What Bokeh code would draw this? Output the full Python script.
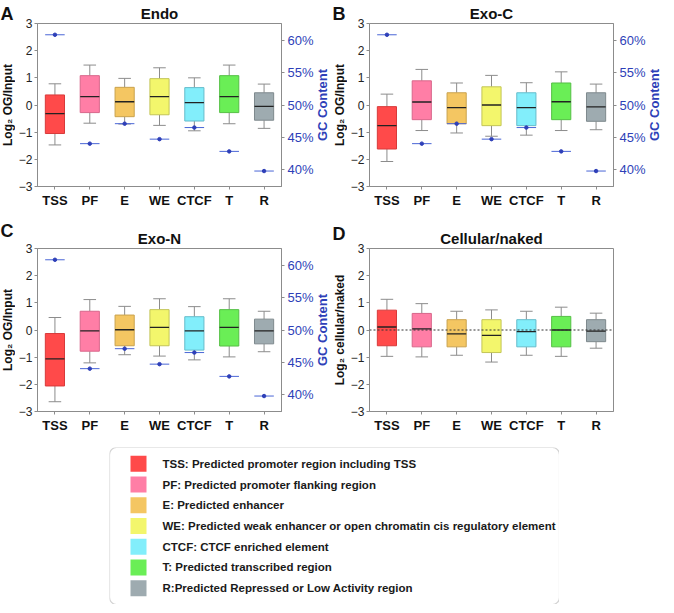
import math
from bokeh.plotting import figure
from bokeh.models import (FactorRange, Range1d, LinearAxis, FixedTicker,
                          PrintfTickFormatter, ColumnDataSource, Span,
                          BoxAnnotation, Spacer)
from bokeh.transform import dodge
from bokeh.layouts import column, row
from bokeh.embed import file_html
from bokeh.resources import INLINE
from bokeh.core.properties import value

# ---------------- data ----------------
CATS = ["TSS", "PF", "E", "WE", "CTCF", "T", "R"]
LEGEND_TEXT = [
    "TSS: Predicted promoter region including TSS",
    "PF: Predicted promoter flanking region",
    "E: Predicted enhancer",
    "WE: Predicted weak enhancer or open chromatin cis regulatory element",
    "CTCF: CTCF enriched element",
    "T: Predicted transcribed region",
    "R:Predicted Repressed or Low Activity region",
]
GC_CONTENT = [60.9, 44.0, 47.1, 44.7, 46.5, 42.8, 39.75]

ENDO_LO = [-1.47, -0.67, -0.70, -0.75, -0.95, -0.69, -0.86]
ENDO_Q1 = [-1.05, -0.28, -0.43, -0.36, -0.59, -0.28, -0.56]
ENDO_MED = [-0.32, 0.31, 0.12, 0.31, 0.09, 0.31, -0.05]
ENDO_Q3 = [0.37, 1.08, 0.65, 0.97, 0.64, 1.08, 0.45]
ENDO_HI = [0.78, 1.47, 0.98, 1.37, 1.00, 1.47, 0.77]

EXOC_LO = [-2.08, -0.94, -1.03, -1.15, -1.11, -0.94, -0.91]
EXOC_Q1 = [-1.62, -0.54, -0.69, -0.76, -0.76, -0.54, -0.60]
EXOC_MED = [-0.76, 0.11, -0.10, 0.00, -0.10, 0.12, -0.07]
EXOC_Q3 = [-0.06, 0.89, 0.45, 0.67, 0.45, 0.81, 0.45]
EXOC_HI = [0.40, 1.31, 0.81, 1.09, 0.82, 1.22, 0.77]

EXON_LO = [-2.64, -1.21, -0.91, -0.96, -1.10, -0.99, -0.80]
EXON_Q1 = [-2.06, -0.78, -0.58, -0.58, -0.74, -0.59, -0.51]
EXON_MED = [-1.06, -0.03, 0.01, 0.10, -0.03, 0.10, -0.03]
EXON_Q3 = [-0.13, 0.69, 0.55, 0.75, 0.49, 0.75, 0.40]
EXON_HI = [0.46, 1.12, 0.87, 1.15, 0.86, 1.15, 0.69]

CELL_LO = [-0.97, -0.99, -0.93, -1.18, -0.93, -0.97, -0.67]
CELL_Q1 = [-0.58, -0.62, -0.62, -0.83, -0.62, -0.62, -0.43]
CELL_MED = [0.11, 0.04, -0.14, -0.20, -0.06, 0.00, -0.04]
CELL_Q3 = [0.73, 0.61, 0.38, 0.38, 0.38, 0.50, 0.38]
CELL_HI = [1.13, 0.97, 0.69, 0.74, 0.69, 0.84, 0.62]

Y_TICKS = [-3, -2, -1, 0, 1, 2, 3]
GC_TICKS = [40, 45, 50, 55, 60]

# ---------------- style ----------------
FILLS = ["#ff4a4a", "#ff7ea6", "#f4c662", "#f3f66c", "#82eefb", "#6aee56", "#9eabb0"]
EDGES = ["#d83a3a", "#d8668a", "#c9a24e", "#c3c557", "#66bccb", "#55bf45", "#7e898d"]
FONT = "Liberation Sans"
GREY = "#8c8c8c"
BLUE = "#2e3fb8"
FRAME_W = 244
FRAME_H = 163
LAB_W = 15
GC_W = 16
TOP1, BOT1 = 21, 24
TOP2, BOT2 = 38, 36


def strip_fig(width, letter=None, letter_standoff=0):
    # thin side strip; the row lines its frame up with the panel frame
    f = figure(x_range=Range1d(0, 1), y_range=Range1d(0, 1),
               frame_width=width, frame_height=FRAME_H, output_backend="svg",
               toolbar_location=None, x_axis_location=None,
               y_axis_location=None, min_border=0, outline_line_color=None,
               title=letter)
    if letter is not None:
        f.title.align = "left"
        f.title.text_font = FONT
        f.title.text_font_size = "18px"
        f.title.text_font_style = "bold"
        f.title.text_color = "#111111"
        f.title.standoff = letter_standoff
    f.xgrid.visible = False
    f.ygrid.visible = False
    return f


def label_strip(letter, ylabel, standoff):
    f = strip_fig(LAB_W, letter, standoff)
    f.text(x=[0.5], y=[0.5], text=[ylabel],
           angle=math.pi / 2, text_align="center", text_baseline="middle",
           text_font=value(FONT), text_font_size="12px",
           text_font_style="bold", text_color="#111111")
    return f


def gc_strip():
    f = strip_fig(GC_W)
    f.text(x=[0.38], y=[0.5], text=["GC Content"],
           angle=math.pi / 2, text_align="center", text_baseline="middle",
           text_font=value(FONT), text_font_size="13px",
           text_font_style="bold", text_color=BLUE)
    return f


def panel(title, lo, q1, med, q3, hi, show_gc, zero_line, top_b, bot_b, right_b):
    p = figure(x_range=FactorRange(*CATS), y_range=Range1d(-3, 3),
               frame_width=FRAME_W, frame_height=FRAME_H,
               output_backend="svg", toolbar_location=None,
               min_border_left=17, min_border_right=right_b,
               min_border_top=top_b, min_border_bottom=bot_b,
               outline_line_color=GREY, outline_line_width=1)
    p.title.text = title
    p.title.align = "center"
    p.title.text_font = FONT
    p.title.text_font_size = "15px"
    p.title.text_font_style = "bold"
    p.title.text_color = "#111111"
    p.title.standoff = 4
    p.xgrid.visible = False
    p.ygrid.visible = False

    src = ColumnDataSource(dict(cat=CATS, lo=lo, q1=q1, med=med, q3=q3, hi=hi,
                                fill=FILLS, edge=EDGES, gc=GC_CONTENT))

    # whiskers
    p.segment(x0="cat", y0="q3", x1="cat", y1="hi", source=src,
              line_color=GREY, line_width=1)
    p.segment(x0="cat", y0="q1", x1="cat", y1="lo", source=src,
              line_color=GREY, line_width=1)
    for yk in ("hi", "lo"):
        p.segment(x0=dodge("cat", -0.18, range=p.x_range), y0=yk,
                  x1=dodge("cat", 0.18, range=p.x_range), y1=yk,
                  source=src, line_color=GREY, line_width=1)
    # boxes
    p.vbar(x="cat", top="q3", bottom="q1", width=0.55, source=src,
           fill_color="fill", line_color="edge", line_width=1)
    # medians
    p.segment(x0=dodge("cat", -0.275, range=p.x_range), y0="med",
              x1=dodge("cat", 0.275, range=p.x_range), y1="med",
              source=src, line_color="#222222", line_width=1.3)

    if zero_line:
        p.add_layout(Span(location=0, dimension="width", line_color="#333333",
                          line_dash="2 2", line_width=1.2))

    if show_gc:
        p.extra_y_ranges = {"gc": Range1d(37.35, 62.65)}
        p.segment(x0=dodge("cat", -0.28, range=p.x_range), y0="gc",
                  x1=dodge("cat", 0.28, range=p.x_range), y1="gc",
                  source=src, y_range_name="gc", line_color="#4a66d6",
                  line_width=1)
        p.scatter(x="cat", y="gc", source=src, y_range_name="gc", size=3.5,
                  fill_color=BLUE, line_color=BLUE)
        ax = LinearAxis(y_range_name="gc", ticker=FixedTicker(ticks=GC_TICKS),
                        formatter=PrintfTickFormatter(format="%d%%"))
        ax.major_label_text_color = BLUE
        ax.major_label_text_font = FONT
        ax.major_label_text_font_size = "13px"
        ax.major_label_standoff = 3
        ax.axis_line_color = GREY
        ax.major_tick_line_color = GREY
        ax.major_tick_out = 3
        ax.major_tick_in = 0
        ax.minor_tick_line_color = None
        p.add_layout(ax, "right")

    ya = p.yaxis[0]
    ya.ticker = FixedTicker(ticks=Y_TICKS)
    ya.major_label_text_font = FONT
    ya.major_label_text_font_size = "12px"
    ya.major_label_text_color = "#222222"
    ya.major_label_standoff = 2
    ya.axis_line_color = GREY
    ya.major_tick_line_color = GREY
    ya.major_tick_out = 3
    ya.major_tick_in = 0
    ya.minor_tick_line_color = None

    xa = p.xaxis[0]
    xa.major_label_text_font = FONT
    xa.major_label_text_font_size = "13px"
    xa.major_label_text_font_style = "bold"
    xa.major_label_text_color = "#111111"
    xa.major_label_standoff = 3
    xa.axis_line_color = GREY
    xa.major_tick_line_color = GREY
    xa.major_tick_out = 3
    xa.major_tick_in = 0
    return p


pa = panel("Endo", ENDO_LO, ENDO_Q1, ENDO_MED, ENDO_Q3, ENDO_HI,
           True, False, TOP1, BOT1, 34)
pb = panel("Exo-C", EXOC_LO, EXOC_Q1, EXOC_MED, EXOC_Q3, EXOC_HI,
           True, False, TOP1, BOT1, 34)
pc = panel("Exo-N", EXON_LO, EXON_Q1, EXON_MED, EXON_Q3, EXON_HI,
           True, False, TOP2, BOT2, 34)
pd_ = panel("Cellular/naked", CELL_LO, CELL_Q1, CELL_MED, CELL_Q3, CELL_HI,
            False, True, TOP2, BOT2, 10)

row1 = row(label_strip("A", "Log\u2082 OG/Input", 0), pa, gc_strip(),
           label_strip("B", "Log\u2082 OG/Input", 0), pb, gc_strip())
row2 = row(label_strip("C", "Log\u2082 OG/Input", 16), pc, gc_strip(),
           label_strip("D", "Log\u2082 cellular/naked", 10), pd_)

# ---------------- legend panel ----------------
LEG_W, LEG_H = 450, 157
pl = figure(x_range=Range1d(0, LEG_W),
            y_range=FactorRange(*CATS[::-1], range_padding=0.083),
            width=LEG_W, height=LEG_H, output_backend="svg", title=None,
            toolbar_location=None, x_axis_location=None, y_axis_location=None,
            min_border=0, outline_line_color=None)
pl.xgrid.visible = False
pl.ygrid.visible = False
lsrc = ColumnDataSource(dict(cat=CATS, fill=FILLS, txt=LEGEND_TEXT))
pl.rect(x=29, y="cat", width=16, height=16, width_units="screen",
        height_units="screen", source=lsrc, fill_color="fill", line_color=None)
pl.text(x=53, y="cat", text="txt", source=lsrc, text_baseline="middle",
        text_font=value(FONT), text_font_size="11.5px", text_font_style="bold",
        text_color="#1a1a1a")
box_kw = dict(fill_alpha=0, line_color="#666666", line_width=1.2)
if "border_radius" in BoxAnnotation.properties():
    box_kw["border_radius"] = 7
pl.add_layout(BoxAnnotation(**box_kw))

layout = column(row1, row2, row(Spacer(width=109, height=LEG_H), pl))

open("out.html", "w").write(file_html(layout, INLINE))
